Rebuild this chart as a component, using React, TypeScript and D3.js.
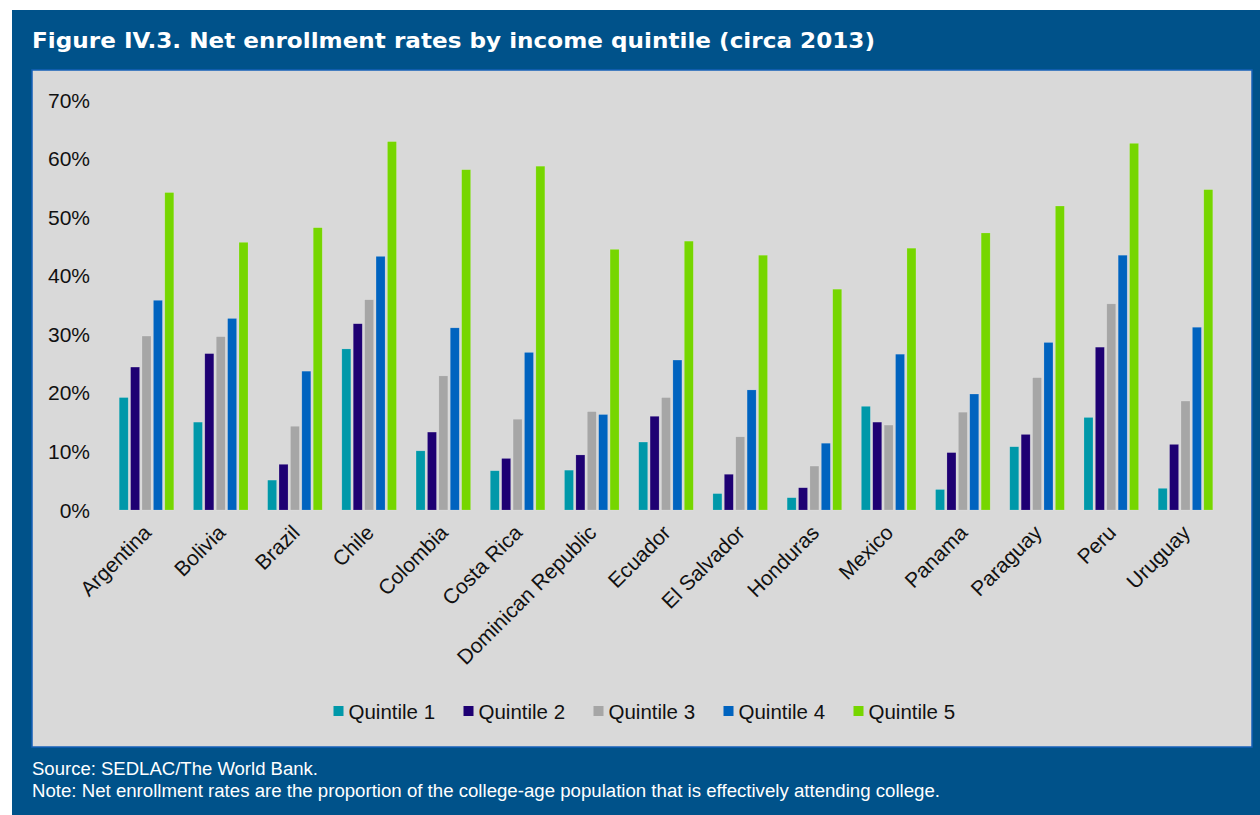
import React from "react";
import * as d3 from "d3";

const countries = ["Argentina","Bolivia","Brazil","Chile","Colombia","Costa Rica","Dominican Republic","Ecuador","El Salvador","Honduras","Mexico","Panama","Paraguay","Peru","Uruguay"];
const seriesNames = ["Quintile 1","Quintile 2","Quintile 3","Quintile 4","Quintile 5"];
const q1 = [19.2,15.0,5.1,27.5,10.1,6.7,6.8,11.6,2.8,2.1,17.7,3.5,10.8,15.8,3.7];
const q2 = [24.4,26.7,7.8,31.8,13.3,8.8,9.4,16.0,6.1,3.8,15.0,9.8,12.9,27.8,11.2];
const q3 = [29.7,29.6,14.3,35.9,22.9,15.5,16.8,19.2,12.5,7.5,14.5,16.7,22.6,35.2,18.6];
const q4 = [35.8,32.7,23.7,43.3,31.1,26.9,16.3,25.6,20.5,11.4,26.6,19.8,28.6,43.5,31.2];
const q5 = [54.2,45.7,48.2,62.9,58.1,58.7,44.5,45.9,43.5,37.7,44.7,47.3,51.9,62.6,54.7];
const yTicks = [0,10,20,30,40,50,60,70];
const colors = ["#0098A9","#1E0073","#A6A6A6","#0063BF","#76D600"];

const series = [q1,q2,q3,q4,q5];

export default function App() {
  const W = 1260, H = 815;
  const x0 = d3.scaleBand<string>().domain(countries).range([109.4, 1222.6]).paddingInner(0).paddingOuter(0);
  const step = 11.4, bw = 9;
  const y = d3.scaleLinear().domain([0, 70]).range([510, 100]);
  const legendX = d3.scalePoint<string>().domain(seriesNames).range([333.5, 853.5]);
  const font = "'Liberation Sans', Arial, sans-serif";
  return (
    <svg width={W} height={H} style={{position:"absolute", left:0, top:0}}>
      <rect x={0} y={0} width={W} height={H} fill="#ffffff" />
      <rect x={12} y={10} width={W-12} height={H-10} fill="#00528A" />
      <text x={32} y={48} fill="#ffffff" fontFamily="'DejaVu Sans', sans-serif" fontWeight="bold" fontSize={22} textLength={843} lengthAdjust="spacingAndGlyphs">Figure IV.3. Net enrollment rates by income quintile (circa 2013)</text>
      <rect x={32} y={70} width={1220} height={677} fill="#D9D9D9" stroke="#1560B8" strokeWidth={1.5} />
      {yTicks.map(t => (
        <text key={t} x={90} y={y(t)} dy="0.36em" textAnchor="end" fontFamily={font} fontSize={21} fill="#111">{t}%</text>
      ))}
      {countries.map((c, i) => {
        const cx = (x0(c) as number) + x0.bandwidth() / 2;
        return (
          <g key={c}>
            {series.map((s, k) => {
              const bx = cx + (k - 2) * step - bw / 2;
              return <rect key={k} x={bx} y={y(s[i])} width={bw} height={y(0) - y(s[i])} fill={colors[k]} stroke="rgba(255,255,255,0.25)" strokeWidth={0.6} />;
            })}
            <text transform={`translate(${cx + 6},${534}) rotate(-45)`} textAnchor="end" fontFamily={font} fontSize={21} fill="#111">{c}</text>
          </g>
        );
      })}
      {seriesNames.map((n, k) => {
        const lx = legendX(n) as number;
        return (
          <g key={n}>
            <rect x={lx} y={706} width={10} height={10} fill={colors[k]} />
            <text x={lx + 15} y={719} fontFamily={font} fontSize={20.5} fill="#111">{n}</text>
          </g>
        );
      })}
      <text x={32} y={775} fontFamily={font} fontSize={18} fill="#ffffff" textLength={286} lengthAdjust="spacingAndGlyphs">Source: SEDLAC/The World Bank.</text>
      <text x={32} y={797} fontFamily={font} fontSize={18} fill="#ffffff" textLength={908} lengthAdjust="spacingAndGlyphs">Note: Net enrollment rates are the proportion of the college-age population that is effectively attending college.</text>
    </svg>
  );
}
